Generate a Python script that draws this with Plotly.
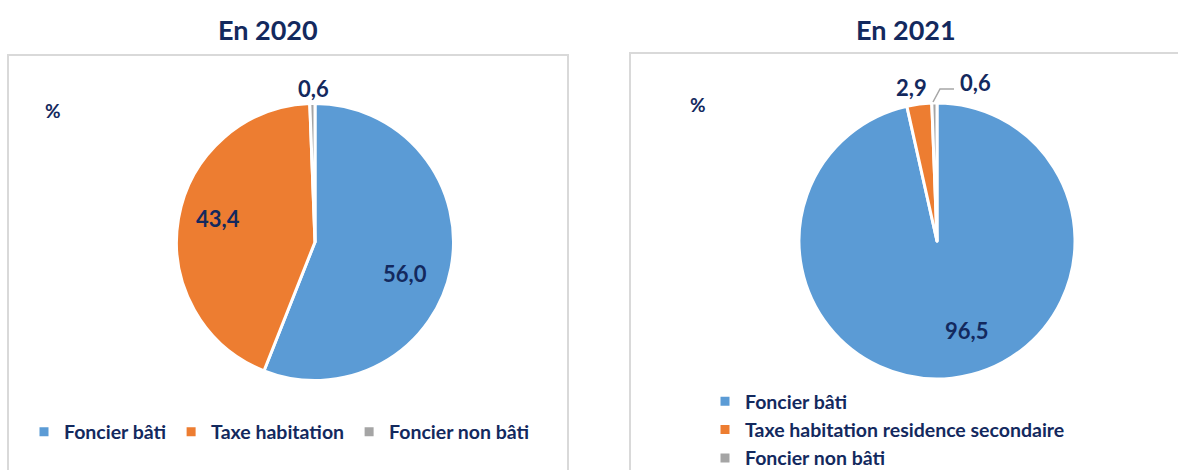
import plotly.graph_objects as go

# Répartition des recettes fiscales (%)
categories_2020 = ["Foncier bâti", "Taxe habitation", "Foncier non bâti"]
values_2020 = [56.0, 43.4, 0.6]

categories_2021 = ["Foncier bâti", "Taxe habitation residence secondaire", "Foncier non bâti"]
values_2021 = [96.5, 2.9, 0.6]

titles = ["En 2020", "En 2021"]
colors = ["#5B9BD5", "#ED7D31", "#A5A5A5"]

W, H = 1178, 470
NAVY = "#13295E"
FONT = "Lato"


def fx(x):
    return x / W


def fy(y):
    return 1 - y / H


def fmt(v):
    return f"{v:.1f}".replace(".", ",")


def domain(cx, cy, r):
    return dict(x=[fx(cx - r), fx(cx + r)], y=[fy(cy + r), fy(cy - r)])


fig = go.Figure()

fig.add_trace(go.Pie(
    labels=categories_2020, values=values_2020,
    marker=dict(colors=colors, line=dict(color="white", width=3)),
    sort=False, direction="clockwise", rotation=0,
    textinfo="none", hoverinfo="label+value",
    domain=domain(315, 242, 138.5), legend="legend", legendgroup="g2020",
))
fig.add_trace(go.Pie(
    labels=categories_2021, values=values_2021,
    marker=dict(colors=colors, line=dict(color="white", width=3)),
    sort=False, direction="clockwise", rotation=0,
    textinfo="none", hoverinfo="label+value",
    domain=domain(937, 241, 138), legend="legend2", legendgroup="g2021",
))

label_font = dict(family=FONT, size=22, color=NAVY, weight=700)
annotations = []

# value labels, one per slice
label_pos_2020 = [(405, 273), (218, 219), (313, 88)]
label_pos_2021 = [(966, 330), (911, 87), (975, 83)]
for vals, pos in ((values_2020, label_pos_2020), (values_2021, label_pos_2021)):
    for v, (x, y) in zip(vals, pos):
        annotations.append(dict(x=fx(x), y=fy(y), xref="paper", yref="paper",
                                text=fmt(v), showarrow=False, font=label_font,
                                xanchor="center", yanchor="middle"))

# panel titles
for t, x in zip(titles, (268, 906)):
    annotations.append(dict(x=fx(x), y=fy(30), xref="paper", yref="paper", text=t,
                            showarrow=False, xanchor="center", yanchor="middle",
                            font=dict(family=FONT, size=27, color=NAVY, weight=700)))

# unit markers
for x, y in ((53, 110), (698, 105)):
    annotations.append(dict(x=fx(x), y=fy(y), xref="paper", yref="paper", text="%",
                            showarrow=False, xanchor="center", yanchor="middle",
                            font=dict(family=FONT, size=19, color=NAVY, weight=700)))

shapes = [
    # panel frames
    dict(type="rect", xref="paper", yref="paper", x0=fx(8), x1=fx(568), y0=fy(490), y1=fy(55),
         line=dict(color="#D9D9D9", width=2), layer="below"),
    dict(type="rect", xref="paper", yref="paper", x0=fx(630), x1=fx(1200), y0=fy(490), y1=fy(53),
         line=dict(color="#D9D9D9", width=2), layer="below"),
    # leader line for the small slice label
    dict(type="path", xref="paper", yref="paper",
         path=f"M {fx(933)} {fy(102)} L {fx(940)} {fy(89)} L {fx(954)} {fy(89)}",
         line=dict(color="#A6A6A6", width=1.5)),
]

legend_font = dict(family=FONT, size=19.5, color=NAVY, weight=700)
fig.update_layout(
    width=W, height=H,
    margin=dict(l=0, r=0, t=0, b=0, autoexpand=False),
    paper_bgcolor="white", plot_bgcolor="white",
    annotations=annotations, shapes=shapes,
    legend=dict(orientation="h", x=fx(24), xanchor="left", y=fy(432), yanchor="middle",
                font=legend_font, itemwidth=30, bgcolor="rgba(0,0,0,0)", traceorder="normal"),
    legend2=dict(orientation="v", x=fx(705), xanchor="left", y=fy(382), yanchor="top",
                 font=legend_font, itemwidth=30, bgcolor="rgba(0,0,0,0)", traceorder="normal"),
)

fig.write_html("out.html")
